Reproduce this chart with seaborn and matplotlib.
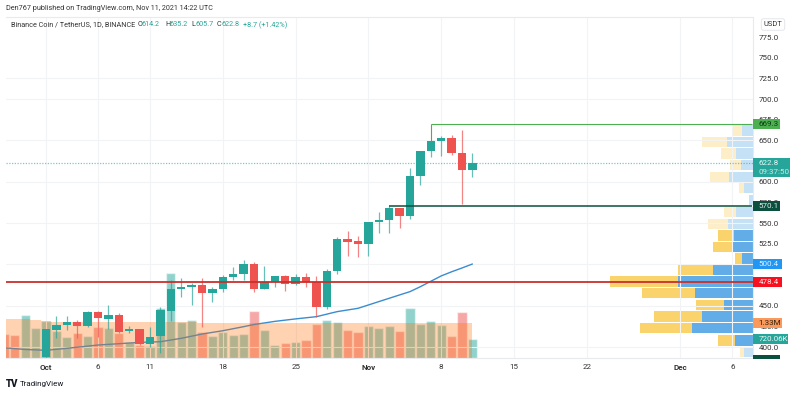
import matplotlib
matplotlib.use('Agg')
import matplotlib.pyplot as plt
from matplotlib.patches import Rectangle
from matplotlib.transforms import blended_transform_factory
import numpy as np
import pandas as pd
import seaborn as sns

# candles, day 0 = Oct 1
candle_days = list(range(0, 42))
opens = [387.5, 421, 426.6, 430, 425.4, 442, 434.2, 438.3, 419.7, 421.7, 403.6, 413.3, 443.9, 470.5, 472.5, 474.6, 465.7, 470.5, 485, 487.9, 500.8,
         470.6, 478.6, 485.5, 475.8, 484.7, 478.6, 448, 491.6, 530.3, 528, 524, 550.8, 554, 568.2, 558.5, 607.3, 637, 649.2, 653.2, 634.7, 614.2]
highs = [421.7, 437.9, 437.5, 432.6, 444, 443, 450.4, 440.7, 425.4, 422, 424.6, 448, 481, 483, 477, 484, 472, 487, 497, 505, 503,
         498, 486, 487, 488, 489, 486, 494, 532.7, 540.3, 534.3, 551, 563.7, 570, 568.5, 616, 637.5, 649, 655.3, 656.5, 662.5, 635.2]
lows = [386, 410.5, 420.5, 411.3, 423.8, 411.7, 422, 416.5, 416.5, 403, 400.4, 392.3, 431.8, 460.9, 450.8, 423.8, 454, 467, 481, 481, 466,
        470, 473, 467.8, 475.5, 473, 436.7, 446, 488, 510.5, 509.3, 510.5, 537.5, 537.5, 543.6, 554.4, 596, 630, 631, 632.3, 573, 605.7]
closes = [421.7, 426.6, 430, 425.8, 442, 434.7, 438.3, 418.5, 421.7, 403.6, 412.5, 444.3, 470.5, 472.5, 474.6, 465.7, 470.5, 484.6, 487.9, 500.8, 470.6,
          478.6, 485.5, 475.8, 484.7, 478.2, 448, 491.6, 530.3, 527.4, 524, 550.8, 554, 568.2, 558.5, 606.9, 637, 648.8, 652.8, 634.7, 614.1, 622.8]

# volume in millions
vol_days = list(range(-4, 42))
volumes = [0.92, 0.90, 1.65, 1.14, 1.41, 1.03, 0.82, 0.95, 0.86, 1.21, 1.14, 0.97, 0.60, 0.51, 0.46, 1.91, 3.27, 1.40, 1.47, 1.01, 0.86, 1.01, 0.88, 0.92, 1.81,
           1.09, 0.51, 0.58, 0.63, 0.69, 1.31, 1.46, 1.38, 1.08, 0.99, 1.24, 1.14, 1.23, 1.03, 1.94, 1.31, 1.44, 1.27, 0.85, 1.77, 0.72]
vol_dirs = ['down', 'down', 'up', 'up', 'up', 'up', 'up', 'down', 'up', 'down', 'up', 'down', 'up', 'down', 'up', 'up', 'up', 'up', 'up', 'down', 'up', 'up', 'up', 'up', 'down',
            'up', 'up', 'down', 'up', 'down', 'down', 'up', 'up', 'down', 'down', 'up', 'up', 'up', 'down', 'up', 'up', 'up', 'up', 'down', 'down', 'up']
vol_ma = [1.5, 1.5, 1.5, 1.47, 1.43, 1.40, 1.38, 1.37, 1.37, 1.37, 1.37, 1.37, 1.37, 1.37, 1.37, 1.37, 1.37, 1.37, 1.37, 1.36, 1.36, 1.36, 1.35, 1.35, 1.35,
          1.34, 1.34, 1.34, 1.33, 1.33, 1.33, 1.33, 1.33, 1.33, 1.33, 1.33, 1.33, 1.33, 1.33, 1.33, 1.33, 1.33, 1.33, 1.33, 1.33, 1.33]

# moving average
ma_days = [-4, -2, 0, 2, 5, 9, 11, 13, 15, 17, 19, 20, 22, 24, 26, 28, 30, 32, 34, 35, 36, 37, 38, 39, 40, 41]
ma_values = [399, 397, 396, 398.4, 402.4, 405.6, 406.4, 410.5, 415.7, 419.7, 424.6, 427.2, 431, 434, 436.7, 442.8, 446.8, 454.9, 463, 467, 473, 479.5, 486, 491, 495.6, 500.4]

# volume profile
vp_prices = [662, 648, 634, 620, 606, 592, 578, 563, 549, 535, 521, 507, 493, 479, 465, 451, 437, 423, 408, 394]
vp_up = [11, 26, 16.7, 11.7, 23.3, 8.7, 3.3, 16.7, 24.3, 18.7, 21, 11, 39.3, 74.3, 57.7, 28.7, 50.3, 60.7, 17.7, 8.7]
vp_down = [10, 24.7, 15.3, 11, 19.3, 5.3, 0.5, 11.7, 20, 16.3, 19, 6.3, 35.3, 68.3, 53, 28, 48.7, 52, 17, 4]
vp_in_area = [0, 0, 0, 0, 0, 0, 0, 0, 0, 1, 1, 1, 1, 1, 1, 1, 1, 1, 1, 0]

x_tick_days = [0, 5, 10, 17, 24, 31, 38, 45, 52, 61, 66]
x_tick_labels = ['Oct', '6', '11', '18', '25', 'Nov', '8', '15', '22', 'Dec', '6']
# 625, 500 and 475 sit fully behind the price tags
price_ticks = [400, 425, 450, 525, 550, 575, 600, 650, 675, 700, 725, 750, 775, 800]
grid_prices = [800, 725, 700, 650, 600, 550, 500, 450, 400]

UP = '#26a69a'
DOWN = '#ef5350'

sns.set_theme(style='white')
plt.rcParams['font.family'] = ['Roboto', 'DejaVu Sans']

W, H = 800, 395
fig = plt.figure(figsize=(W / 100, H / 100), dpi=100, facecolor='white')
rect = [6 / W, (H - 358) / H, 746.5 / W, 341 / H]
ax_vol = fig.add_axes(rect, zorder=1)
ax_vp = fig.add_axes(rect, zorder=2, facecolor='none')
ax = fig.add_axes(rect, zorder=3, facecolor='none')

xlim = (-3.846, 67.93)
ylim = (386.7, 799.2)
vol_lim = (0, 13.1)

vol_df = pd.DataFrame({'day': vol_days, 'vol': volumes, 'dir': vol_dirs})
for name, col in [('up', UP), ('down', DOWN)]:
    sns.barplot(data=vol_df[vol_df['dir'] == name], x='day', y='vol', native_scale=True, width=0.9,
                color=col, alpha=0.5, saturation=1, errorbar=None, ax=ax_vol)
ax_vol.set_xlim(xlim)
ax_vol.set_ylim(vol_lim)
ax_vol.axis('off')

# profile, bars grow leftwards from the price scale
vp_alpha = [0.95 if a else 0.35 for a in vp_in_area]
for p, u, d, a in zip(vp_prices, vp_up, vp_down, vp_alpha):
    ax_vp.barh(p, u, height=12.6, color='#5aa9e6', alpha=a, linewidth=0)
    ax_vp.barh(p, d, left=u, height=12.6, color='#fbd164', alpha=a, linewidth=0)
ax_vp.set_xlim(746.5, 0)
ax_vp.set_ylim(ylim)
ax_vp.axis('off')

ma_df = pd.DataFrame({'day': ma_days, 'ma': ma_values})
sns.lineplot(data=ma_df, x='day', y='ma', color='#3a8ccf', linewidth=1, ax=ax, zorder=2)

# orange volume average sits over the bars
ax.fill_between(vol_days, 0, vol_ma, step='mid', color='#ff6d00', alpha=0.3, linewidth=0,
                transform=ax_vol.transData, zorder=3)

colors = [UP if c >= o else DOWN for o, c in zip(opens, closes)]
ax.vlines(candle_days, lows, highs, colors=colors, linewidth=0.9, alpha=0.7, zorder=4)
ax.bar(candle_days, np.array(closes) - np.array(opens), bottom=opens, width=0.8, color=colors, linewidth=0, zorder=5)

ax.axhline(478.4, color='#c9302c', linewidth=1.3, zorder=6)
ax.hlines(669.3, 37, xlim[1], color='#4caf50', linewidth=0.8, zorder=6)
ax.vlines(37, 648.8, 669.3, color='#4caf50', linewidth=0.8, zorder=6)
ax.hlines(570.1, 33, xlim[1], color='#0b4f3f', linewidth=1.1, zorder=6)
ax.axhline(622.8, color=UP, linewidth=0.9, linestyle=(0, (1, 1.2)), alpha=0.6, zorder=1)

ax.set_xlim(xlim)
ax.set_ylim(ylim)
ax.set_xlabel('')
ax.set_ylabel('')
ax.set_xticks(x_tick_days, x_tick_labels)
ax.yaxis.tick_right()
ax.set_yticks(price_ticks, [f'{p:.1f}' for p in price_ticks])
ax.set_ylim(ylim)
ax.tick_params(axis='y', length=0, pad=4.5, labelsize=5.8, labelcolor='#333333')
ax.tick_params(axis='x', length=0, pad=4, labelsize=5.8, labelcolor='#333333')
for lab in ax.get_xticklabels():
    if lab.get_text() in ('Oct', 'Nov', 'Dec'):
        lab.set_fontweight('bold')
for d in x_tick_days:
    ax.axvline(d, color='#f2f3f5', linewidth=0.8, zorder=0)
for p in grid_prices:
    ax.axhline(p, color='#f2f3f5', linewidth=0.8, zorder=0)
ax.spines['left'].set_visible(False)
for side in ['top', 'right', 'bottom']:
    ax.spines[side].set_color('#e8eaee')
    ax.spines[side].set_linewidth(0.8)

vol_trans = blended_transform_factory(ax.transAxes, ax_vol.transData)
price_trans = ax.get_yaxis_transform()


def badge(y, label, width_px, bg, fg, trans=price_trans, h=12.1):
    ax.add_patch(Rectangle((1.0, y - h / 2), width_px / 746.5, h, transform=trans, facecolor=bg, edgecolor='none', clip_on=False, zorder=9))
    ax.text(1 + 6.3 / 746.5, y, label, transform=trans, ha='left', va='center', fontsize=5.8, color=fg, zorder=10, clip_on=False)


badge(669.3, '669.3', 27.5, '#4caf50', '#0d3b12')
ax.add_patch(Rectangle((1.0, 605.5), 38 / 746.5, 23.5, transform=price_trans, facecolor=UP, edgecolor='none', clip_on=False, zorder=9))
ax.text(1 + 6.3 / 746.5, 622.8, '622.8', transform=price_trans, ha='left', va='center', fontsize=5.8, color='#e6f7f4', zorder=10)
ax.text(1 + 6.3 / 746.5, 611.9, '09:37:50', transform=price_trans, ha='left', va='center', fontsize=5.8, color='#c8ece7', zorder=10)
badge(570.1, '570.1', 27.5, '#0b4f3f', '#e4f0ec')
badge(500.4, '500.4', 29, '#2196f3', '#e3f1fd')
badge(478.4, '478.4', 29, '#f7111f', '#ffe9ea')
badge(1.33, '1.33M', 29, '#f9995b', '#33220f', vol_trans, 0.385)
badge(0.72, '720.06K', 35, UP, '#e6f7f4', vol_trans, 0.385)

# bottom badge cut by the chart edge, USDT box, top cut of the scale
fig.add_artist(Rectangle((752.5 / W, (H - 358.5) / H), 27 / W, 3.5 / H, transform=fig.transFigure, facecolor='#0b4f3f', edgecolor='none', zorder=11))
fig.add_artist(Rectangle((752.8 / W, (H - 16) / H), 47 / W, 16 / H, transform=fig.transFigure, facecolor='white', edgecolor='none', zorder=11))
fig.text(773 / W, (H - 24.5) / H, 'USDT', fontsize=5.4, color='#333333', ha='center', va='center', zorder=12,
         bbox=dict(boxstyle='round,pad=0.3', facecolor='white', edgecolor='#e4e6ea', linewidth=0.7))

# header
fig.text(6 / W, (H - 9) / H, 'Den767 published on TradingView.com, Nov 11, 2021 14:22 UTC', fontsize=5.2, color='#333333', va='center')
y2 = (H - 25) / H
fig.text(11 / W, y2, 'Binance Coin / TetherUS, 1D, BINANCE', fontsize=5.2, color='#333333', va='center')
for px, t, c in [(138, 'O', '#333333'), (142, '614.2', UP), (165, 'H', '#333333'), (169, '635.2', UP),
                 (191, 'L', '#333333'), (195, '605.7', UP), (217, 'C', '#333333'), (221, '622.8', UP),
                 (243, '+8.7 (+1.42%)', UP)]:
    fig.text(px / W, y2, t, fontsize=5.2, color=c, va='center')

# footer logo
fig.text(6 / W, (H - 384) / H, 'TV', fontsize=7, fontweight='black', color='#131722', va='center')
fig.text(20 / W, (H - 384) / H, 'TradingView', fontsize=5.8, color='#131722', va='center')

fig.savefig('out.png', dpi=100)
